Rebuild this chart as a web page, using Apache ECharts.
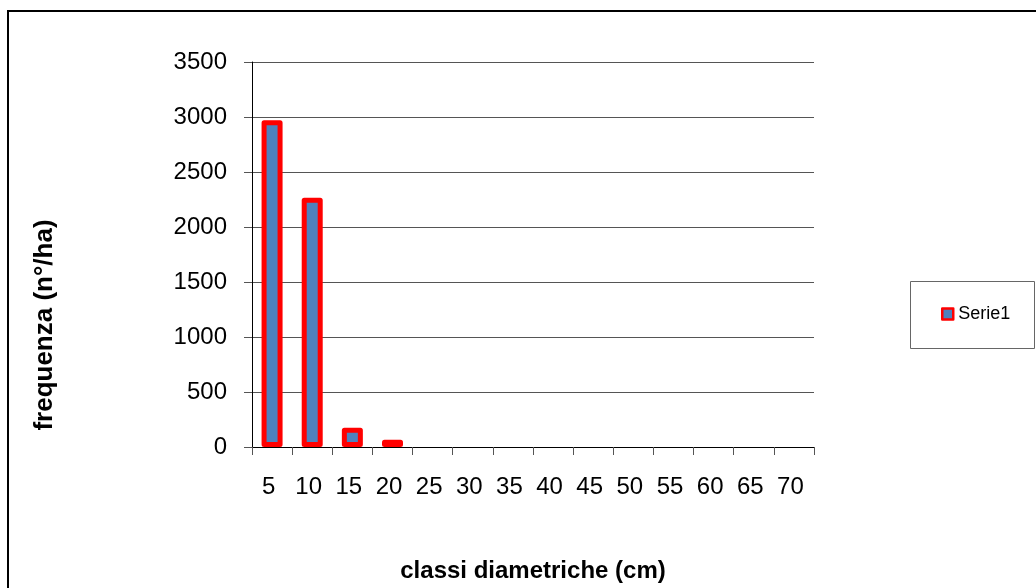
<!DOCTYPE html>
<html>
<head>
<meta charset="utf-8">
<script src="https://cdn.jsdelivr.net/npm/echarts@6/dist/echarts.min.js"></script>
<style>
html,body{margin:0;padding:0;background:#fff;}
#chart{width:1036px;height:588px;}
</style>
</head>
<body>
<div id="chart"></div>
<script>
var categories = ['5','10','15','20','25','30','35','40','45','50','55','60','65','70'];
var serie1 = [2970, 2265, 175, 65, 0, 0, 0, 0, 0, 0, 0, 0, 0, 0];
var seriesName = 'Serie1';
var xTitle = 'classi diametriche (cm)';
var yTitle = 'frequenza (n°/ha)';

var FONT = '"Liberation Sans", Arial, sans-serif';
var chart = echarts.init(document.getElementById('chart'), null, {renderer: 'canvas'});

var barData = serie1.map(function (v) {
  return v === 0 ? {value: v, itemStyle: {borderWidth: 0}} : v;
});

chart.setOption({
  backgroundColor: '#ffffff',
  animation: false,
  grid: {left: 252, right: 222, top: 62, bottom: 141, containLabel: false},
  legend: {
    data: [seriesName],
    left: 941,
    top: 305,
    icon: 'rect',
    itemWidth: 11,
    itemHeight: 11,
    itemStyle: {color: '#4F81BD', borderColor: '#FF0000', borderWidth: 2.5},
    textStyle: {fontFamily: FONT, fontSize: 18, color: '#000'},
    padding: 0
  },
  xAxis: {
    type: 'category',
    data: categories,
    boundaryGap: true,
    axisLine: {lineStyle: {color: '#000', width: 1}},
    axisTick: {show: true, inside: false, length: 8, lineStyle: {color: '#555'}},
    axisLabel: {fontFamily: FONT, fontSize: 24, color: '#000', margin: 28, interval: 0,
      padding: [0, 7, 0, 0]},
    splitLine: {show: false}
  },
  yAxis: {
    type: 'value',
    min: 0,
    max: 3500,
    interval: 500,
    axisLine: {show: true, lineStyle: {color: '#000', width: 1}},
    axisTick: {show: true, inside: false, length: 8, lineStyle: {color: '#555'}},
    axisLabel: {fontFamily: FONT, fontSize: 24, color: '#000', margin: 25,
      formatter: function (v) { return String(v); }},
    splitLine: {show: true, lineStyle: {color: '#555', width: 1}}
  },
  series: [{
    name: seriesName,
    type: 'bar',
    data: barData,
    barWidth: 21,
    itemStyle: {color: '#4F81BD', borderColor: '#FF0000', borderWidth: 5, borderJoin: 'round'}
  }],
  graphic: [
    {
      type: 'rect',
      shape: {x: 8, y: 11, width: 1200, height: 800},
      style: {fill: null, stroke: '#000', lineWidth: 2},
      silent: true, z: 100
    },
    {
      type: 'rect',
      shape: {x: 910.5, y: 281.5, width: 124, height: 67},
      style: {fill: null, stroke: '#666', lineWidth: 1},
      silent: true, z: 100
    },
    {
      type: 'text',
      x: 533, y: 571,
      style: {text: xTitle, font: 'bold 24px ' + FONT, fill: '#000', align: 'center', verticalAlign: 'middle'},
      z: 100
    },
    {
      type: 'text',
      x: 45, y: 325,
      rotation: Math.PI / 2,
      style: {text: yTitle, font: 'bold 26px ' + FONT, fill: '#000', align: 'center', verticalAlign: 'middle'},
      z: 100
    }
  ]
});
</script>
</body>
</html>
